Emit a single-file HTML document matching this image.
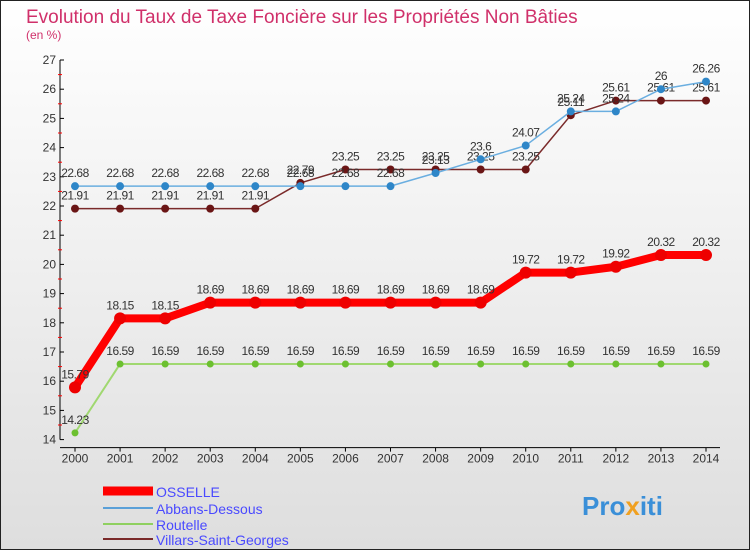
<!DOCTYPE html>
<html><head><meta charset="utf-8"><style>
html,body{margin:0;padding:0}
body{width:750px;height:550px;overflow:hidden;font-family:"Liberation Sans",sans-serif}
svg text{font-family:"Liberation Sans",sans-serif}
</style></head><body>
<svg id="chart" width="750" height="550" xmlns="http://www.w3.org/2000/svg">
<defs><linearGradient id="bg" x1="0" y1="0" x2="0" y2="1"><stop offset="0" stop-color="#ffffff"/><stop offset="1" stop-color="#dedede"/></linearGradient></defs>
<rect x="0.5" y="0.5" width="749" height="549" fill="url(#bg)" stroke="#222"/>
<text x="26" y="23" font-size="19" fill="#d0306a">Evolution du Taux de Taxe Foncière sur les Propriétés Non Bâties</text>
<text x="26" y="39" font-size="12" fill="#d0306a">(en %)</text>
<g id="axes"></g><g id="series"></g>
<g>
<line x1="103" y1="491" x2="153" y2="491" stroke="#f00" stroke-width="9"/>
<text x="156" y="497" font-size="14" fill="#4a4aff">OSSELLE</text>
<line x1="103" y1="508" x2="153" y2="508" stroke="#5aa0d8" stroke-width="2"/>
<text x="156" y="514" font-size="14" fill="#4a4aff">Abbans-Dessous</text>
<line x1="103" y1="524" x2="153" y2="524" stroke="#8fd060" stroke-width="2"/>
<text x="156" y="530" font-size="14" fill="#4a4aff">Routelle</text>
<line x1="103" y1="539" x2="153" y2="539" stroke="#7a2a2a" stroke-width="2"/>
<text x="156" y="545" font-size="14" fill="#4a4aff">Villars-Saint-Georges</text>
</g>
<text x="582" y="515" font-size="26" font-weight="bold" fill="#3a8fd8">Pro<tspan fill="#f0a020">x</tspan>iti</text>
</svg>
<script>
const years=[2000,2001,2002,2003,2004,2005,2006,2007,2008,2009,2010,2011,2012,2013,2014];
const yTicks=[14,15,16,17,18,19,20,21,22,23,24,25,26,27];
const osselle=[15.79,18.15,18.15,18.69,18.69,18.69,18.69,18.69,18.69,18.69,19.72,19.72,19.92,20.32,20.32];
const abbans=[22.68,22.68,22.68,22.68,22.68,22.68,22.68,22.68,23.13,23.6,24.07,25.24,25.24,26,26.26];
const routelle=[14.23,16.59,16.59,16.59,16.59,16.59,16.59,16.59,16.59,16.59,16.59,16.59,16.59,16.59,16.59];
const villars=[21.91,21.91,21.91,21.91,21.91,22.79,23.25,23.25,23.25,23.25,23.25,25.11,25.61,25.61,25.61];
const NS="http://www.w3.org/2000/svg";
const x=i=>75+i*(706-75)/(years.length-1);
const y=v=>60+(27-v)*29.2;
function mk(tag,attrs,parent){const e=document.createElementNS(NS,tag);for(const k in attrs)e.setAttribute(k,attrs[k]);parent.appendChild(e);return e;}
const ax=document.getElementById('axes');
const yl=mk('line',{x1:60,y1:y(27),x2:60,y2:y(14),stroke:'#000'},ax);


const xl=mk('line',{x1:60,y1:y(14)+8,x2:720,y2:y(14)+8,stroke:'#000'},ax);


yTicks.forEach(v=>{
  mk('line',{x1:60,y1:y(v),x2:64,y2:y(v),stroke:'#000'},ax);
  if(v<27)mk('line',{x1:58,y1:y(v+0.5),x2:62,y2:y(v+0.5),stroke:'#f00'},ax);
  const t=mk('text',{x:56,y:y(v)+4,'font-size':12,'text-anchor':'end',fill:'#333'},ax);
  t.textContent=v;
  
  
});
years.forEach((yr,i)=>{
  mk('line',{x1:x(i),y1:y(14)+8,x2:x(i),y2:y(14)+12,stroke:'#000'},ax);
  const t=mk('text',{x:x(i),y:y(14)+23,'font-size':12,'text-anchor':'middle',fill:'#333'},ax);
  t.textContent=yr;
  
  
});
const sg=document.getElementById('series');
function draw(name,vals,color,w,r,dotColor){
  const g=mk('g',{},sg);
  
  
  const p=mk('polyline',{points:vals.map((v,i)=>x(i)+','+y(v)).join(' '),fill:'none',stroke:color,'stroke-width':w,'stroke-linejoin':'round'},g);
  
  
  vals.forEach((v,i)=>{
    const c=mk('circle',{cx:x(i),cy:y(v),r:r,fill:dotColor},g);
    
    
    const t=mk('text',{x:x(i),y:y(v)-9,'font-size':12,'text-anchor':'middle',fill:'#333','letter-spacing':'-0.5'},g);
    t.textContent=v;
    
    
  });
}
draw('routelle',routelle,'#a0d870',2,3.5,'#6cc030');
draw('villars-saint-georges',villars,'#7a2a2a',1.5,4,'#6a1515');
draw('abbans-dessous',abbans,'#6aaee0',1.5,4,'#2e86c8');
draw('osselle',osselle,'#ff0000',8,6,'#ee0000');
</script>
</body></html>
